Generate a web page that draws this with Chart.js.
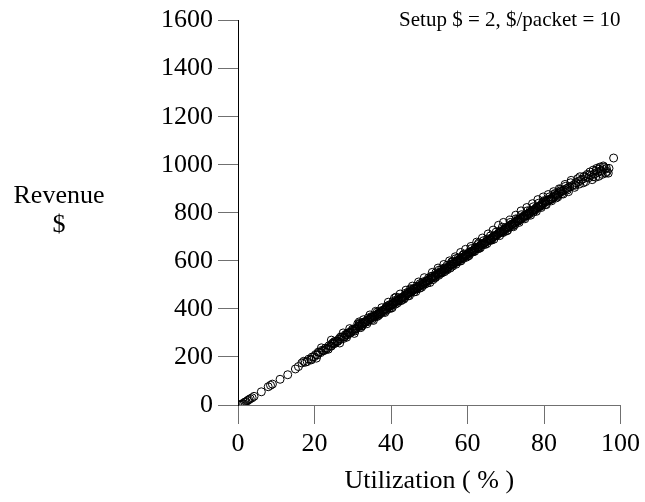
<!DOCTYPE html>
<html>
<head>
<meta charset="utf-8">
<title>Revenue vs Utilization</title>
<script src="https://cdn.jsdelivr.net/npm/chart.js@4"></script>
<style>
  body { margin: 0; background: #fff; }
  #chart-box { width: 645px; height: 502px; }
</style>
</head>
<body>
<div id="chart-box"><canvas id="revenue-chart" width="645" height="502"></canvas></div>
<script>
// utilization (%) of each run
const utilization = [
  0.6, 0.9, 1.2, 1.5, 1.8, 2.1, 2.5, 2.8, 3.2, 3.7, 4.2, 6.1, 7.9, 8.5, 9.0, 11.0, 13.0, 15.0, 15.8, 16.7, 17.2, 17.6,
  18.1, 18.5, 19.0, 19.4, 19.9, 20.3, 20.7, 21.2, 21.6, 22.0, 22.5, 22.9, 23.3, 23.8, 24.2, 24.6, 25.1, 25.5, 25.9, 26.4, 26.8, 27.2, 27.7, 28.1, 28.5, 29.0, 29.4, 29.8,
  19.2, 21.0, 23.0, 24.9, 26.1, 27.9, 28.8, 22.3, 25.3, 29.6,
  20.5, 21.8, 23.6, 24.4, 26.6, 27.5, 28.4, 29.2,
  30.2, 30.5, 30.8, 31.1, 31.4, 31.7, 32.0, 32.3, 32.6, 32.9, 33.2, 33.5, 33.8, 34.1, 34.4, 34.7, 35.0, 35.3, 35.6, 35.9, 36.2, 36.5, 36.8, 37.1, 37.4, 37.7, 38.0, 38.3, 38.6, 38.9, 39.2, 39.5, 39.8,
  30.6, 31.9, 33.0, 34.0, 35.1, 36.3, 37.0, 38.1, 39.0, 39.6, 32.4, 34.9, 36.9, 38.7, 31.7,
  30.4, 31.3, 32.1, 32.8, 33.7, 34.5, 35.4, 36.0, 36.7, 37.6, 38.4, 39.3, 39.9,
  40.1, 40.4, 40.7, 41.0, 41.3, 41.6, 41.9, 42.2, 42.5, 42.8, 43.1, 43.4, 43.7, 44.0, 44.3, 44.6, 44.9, 45.2, 45.5, 45.8, 46.1, 46.4, 46.7, 47.0, 47.3, 47.6, 47.9, 48.2, 48.5, 48.8, 49.1, 49.4, 49.7,
  40.5, 41.2, 42.0, 43.0, 43.8, 44.5, 45.3, 46.0, 46.8, 47.5, 48.3, 49.0, 49.8, 42.6, 45.9, 41.3, 45.1,
  40.3, 40.9, 41.7, 42.4, 43.3, 43.9, 44.8, 45.6, 46.5, 47.2, 48.0, 48.7, 49.5,
  50.0, 50.3, 50.6, 50.9, 51.2, 51.5, 51.8, 52.1, 52.4, 52.7, 53.0, 53.3, 53.6, 53.9, 54.2, 54.5, 54.8, 55.1, 55.4, 55.7, 56.0, 56.3, 56.6, 56.9, 57.2, 57.5, 57.8, 58.1, 58.4, 58.7, 59.0, 59.3, 59.6, 59.9,
  50.4, 51.0, 51.7, 52.5, 53.2, 54.0, 54.7, 55.5, 56.2, 57.0, 57.6, 58.3, 59.1, 59.7, 55.9, 53.5, 52.5, 56.9,
  50.2, 50.8, 51.6, 52.3, 53.1, 53.8, 54.6, 55.3, 56.1, 56.8, 57.4, 58.2, 58.9, 59.5,
  60.2, 60.5, 60.8, 61.1, 61.4, 61.7, 62.0, 62.3, 62.6, 62.9, 63.2, 63.5, 63.8, 64.1, 64.4, 64.7, 65.0, 65.3, 65.6, 65.9, 66.2, 66.5, 66.8, 67.1, 67.4, 67.7, 68.0, 68.3, 68.6, 68.9, 69.2, 69.5, 69.8,
  60.4, 61.0, 61.9, 62.7, 63.4, 64.2, 65.1, 66.0, 66.9, 67.5, 68.4, 69.1, 69.7, 63.0, 66.3,
  60.1, 60.9, 61.6, 62.4, 63.1, 63.9, 64.6, 65.4, 66.1, 66.7, 67.3, 68.1, 68.8, 69.4,
  70.1, 70.4, 70.7, 71.0, 71.3, 71.6, 71.9, 72.2, 72.5, 72.8, 73.1, 73.4, 73.7, 74.0, 74.3, 74.6, 74.9, 75.2, 75.5, 75.8, 76.1, 76.4, 76.7, 77.0, 77.3, 77.6, 77.9, 78.2, 78.5, 78.8, 79.1, 79.4, 79.7,
  70.5, 71.2, 72.0, 72.7, 73.5, 74.1, 75.0, 75.6, 76.5, 77.2, 78.0, 78.6, 79.3, 79.9,
  70.3, 71.1, 71.8, 72.6, 73.3, 74.0, 74.8, 75.5, 76.2, 77.0, 77.8, 78.4, 79.2, 79.8,
  80.2, 80.5, 80.9, 81.2, 81.6, 81.9, 82.3, 82.7, 83.0, 83.4, 83.8, 84.1, 84.5, 84.9, 85.3, 85.8, 86.2, 86.7, 87.3, 87.9, 88.4, 89.0, 89.6,
  80.6, 81.4, 82.0, 82.8, 83.6, 84.3, 85.0, 85.6, 86.4, 87.0, 88.0, 88.8, 89.3,
  80.4, 81.1, 81.8, 82.5, 83.2, 84.0, 84.7, 85.5, 86.1, 87.1, 88.2, 89.4,
  90.1, 90.5, 90.9, 91.3, 91.6, 92.0, 92.3, 92.6, 92.9, 93.2, 93.5, 93.8, 94.0, 94.3, 94.6, 94.9, 95.2, 95.5, 95.8, 96.1, 96.5, 97.0, 98.2,
  90.3, 91.0, 91.9, 92.8, 93.6, 94.4, 95.0, 95.7, 96.3, 96.8,
  24.4, 25.2, 26.0, 26.8, 27.6, 28.4, 29.2, 30.0, 30.8, 31.6, 32.4, 33.2, 34.0, 34.8, 35.6, 36.4, 37.2, 38.0, 38.8, 39.6,
  40.4, 41.2, 42.0, 42.8, 43.6, 44.4, 45.2, 46.0, 46.8, 47.6, 48.4, 49.2, 50.0, 50.8, 51.6, 52.4, 53.2, 54.0, 54.8, 55.6,
  56.4, 57.2, 58.0, 58.8, 59.6, 60.4, 61.2, 62.0, 62.8, 63.6, 64.4, 65.2, 66.0, 66.8, 67.6, 68.4, 69.2, 70.0, 70.8, 71.6,
  72.4, 73.2, 74.0, 74.8, 75.6, 76.4, 77.2, 78.0, 78.8, 79.6, 80.4, 81.2, 82.0, 82.8, 83.6, 84.4
];

// revenue ($) for the same runs, same order
const revenue = [
  0, 3, 6, 5, 12, 14, 18, 22, 26, 30, 36, 55, 76, 82, 87, 107, 126, 150, 160, 175, 182, 178,
  181, 191, 190, 200, 201, 210, 208, 219, 218, 228, 227, 237, 236, 247, 246, 256, 255, 265, 264, 275, 273, 283, 283, 293, 291, 302, 301, 311,
  188, 220, 231, 259, 266, 285, 300, 226, 257, 303,
  195, 238, 232, 270, 258, 300, 282, 318,
  310, 316, 318, 321, 327, 328, 332, 336, 339, 340, 346, 347, 352, 353, 358, 360, 363, 366, 370, 371, 375, 378, 382, 383, 388, 390, 394, 396, 400, 401, 406, 410, 412,
  308, 340, 342, 362, 356, 368, 390, 388, 412, 404, 330, 368, 377, 407, 346,
  298, 338, 322, 355, 338, 375, 352, 390, 372, 405, 385, 428, 402,
  417, 421, 423, 427, 430, 433, 437, 439, 443, 445, 449, 452, 455, 458, 462, 464, 468, 471, 474, 477, 481, 483, 487, 489, 493, 496, 500, 502, 506, 509, 513, 515, 519,
  430, 420, 446, 440, 465, 455, 480, 470, 495, 486, 512, 504, 528, 434, 485, 449, 484,
  405, 445, 425, 462, 440, 478, 455, 495, 472, 512, 490, 530, 508,
  521, 526, 528, 531, 535, 537, 542, 544, 547, 550, 554, 556, 560, 564, 566, 569, 573, 576, 579, 582, 586, 588, 592, 595, 598, 601, 605, 607, 611, 614, 617, 620, 624, 626,
  535, 522, 550, 540, 565, 555, 582, 570, 597, 586, 612, 600, 628, 615, 596, 552, 561, 609,
  510, 552, 532, 570, 548, 585, 562, 600, 578, 617, 596, 635, 610, 648,
  630, 633, 636, 640, 642, 646, 649, 652, 656, 658, 662, 665, 668, 671, 675, 678, 681, 684, 688, 690, 694, 697, 700, 703, 707, 709, 713, 716, 719, 723, 726, 729, 732,
  622, 651, 640, 668, 655, 684, 672, 704, 690, 720, 705, 740, 722, 675, 686,
  620, 660, 638, 678, 652, 695, 668, 712, 688, 728, 705, 748, 718, 760,
  735, 739, 741, 745, 748, 751, 755, 757, 761, 764, 767, 771, 773, 777, 780, 783, 787, 789, 793, 796, 799, 803, 805, 809, 811, 815, 818, 821, 825, 827, 831, 834, 837,
  728, 760, 742, 775, 760, 792, 775, 808, 790, 825, 806, 840, 822, 850,
  725, 770, 745, 790, 765, 808, 780, 822, 795, 838, 812, 855, 828, 866,
  842, 846, 850, 852, 857, 860, 864, 868, 872, 876, 880, 884, 887, 892, 895, 900, 903, 908, 912, 918, 925, 930, 936,
  834, 866, 850, 880, 866, 898, 878, 910, 888, 925, 906, 942, 920,
  850, 876, 855, 888, 862, 900, 880, 918, 895, 935, 915, 950,
  940, 952, 930, 960, 945, 970, 955, 938, 978, 962, 948, 985, 968, 952, 990, 975, 960, 995, 980, 965, 972, 985, 1028,
  925, 948, 958, 950, 975, 982, 970, 990, 985, 965,
  245, 264, 265, 283, 277, 295, 298, 316, 317, 335, 328, 347, 347, 365, 367, 387, 380, 396, 394, 417,
  417, 436, 433, 448, 446, 469, 470, 484, 483, 505, 498, 517, 520, 536, 530, 548, 552, 571, 567, 586,
  587, 600, 599, 624, 623, 636, 636, 655, 651, 669, 673, 691, 686, 701, 705, 724, 717, 739, 739, 753,
  751, 774, 775, 789, 788, 810, 803, 822, 825, 842, 835, 854, 857, 877, 872, 892
];

const xTicks = [0, 20, 40, 60, 80, 100];
const yTicks = [0, 200, 400, 600, 800, 1000, 1200, 1400, 1600];

const xTitle = "Utilization ( % )";
const yTitle = ["Revenue", "$"];
const note = "Setup $ = 2, $/packet = 10";

const serif = "'Liberation Serif', 'Times New Roman', Times, serif";
const gray = "#707070";

const points = utilization.map(function (u, i) {
  return { x: u, y: revenue[i] };
});

// horizontal y title and the note in the corner
const sideText = {
  id: "sideText",
  afterDraw: function (chart) {
    const ctx = chart.ctx;
    ctx.save();
    ctx.fillStyle = "#000";
    ctx.textBaseline = "alphabetic";
    ctx.font = "26px " + serif;
    ctx.textAlign = "center";
    ctx.fillText(yTitle[0], 59, 203);
    ctx.fillText(yTitle[1], 59, 232);
    ctx.font = "21px " + serif;
    ctx.textAlign = "right";
    ctx.fillText(note, chart.chartArea.right, 26);
    ctx.restore();
  },
};

const ctx = document.getElementById("revenue-chart").getContext("2d");
new Chart(ctx, {
  type: "scatter",
  data: {
    datasets: [
      {
        data: points,
        pointStyle: "circle",
        pointRadius: 4,
        pointHoverRadius: 4,
        borderWidth: 1,
        borderColor: "#000",
        backgroundColor: "rgba(0,0,0,0)",
      },
    ],
  },
  options: {
    responsive: false,
    animation: false,
    devicePixelRatio: 1,
    events: [],
    layout: { padding: { left: 0, right: 23, top: 20, bottom: 0 } },
    plugins: {
      legend: { display: false },
      tooltip: { enabled: false },
    },
    scales: {
      x: {
        type: "linear",
        min: 0,
        max: 100,
        afterFit: function (scale) {
          scale.height = 97;
        },
        afterBuildTicks: function (scale) {
          scale.ticks = xTicks.map(function (v) { return { value: v }; });
        },
        border: { display: true, color: gray, width: 1 },
        grid: { drawOnChartArea: false, drawTicks: true, tickLength: 19, color: gray },
        ticks: {
          color: "#000",
          padding: 5,
          font: { family: serif, size: 26 },
          callback: function (value) { return String(value); },
        },
        title: {
          display: true,
          text: xTitle,
          color: "#000",
          padding: { top: 0, bottom: 5 },
          font: { family: serif, size: 26 },
        },
      },
      y: {
        type: "linear",
        min: 0,
        max: 1600,
        afterFit: function (scale) {
          scale.width = 238;
        },
        afterBuildTicks: function (scale) {
          scale.ticks = yTicks.map(function (v) { return { value: v }; });
        },
        border: { display: true, color: "#000", width: 1 },
        grid: { drawOnChartArea: false, drawTicks: true, tickLength: 20, color: gray },
        ticks: {
          color: "#000",
          padding: 5,
          font: { family: serif, size: 26 },
          callback: function (value) { return String(value); },
        },
      },
    },
  },
  plugins: [sideText],
});
</script>
</body>
</html>
